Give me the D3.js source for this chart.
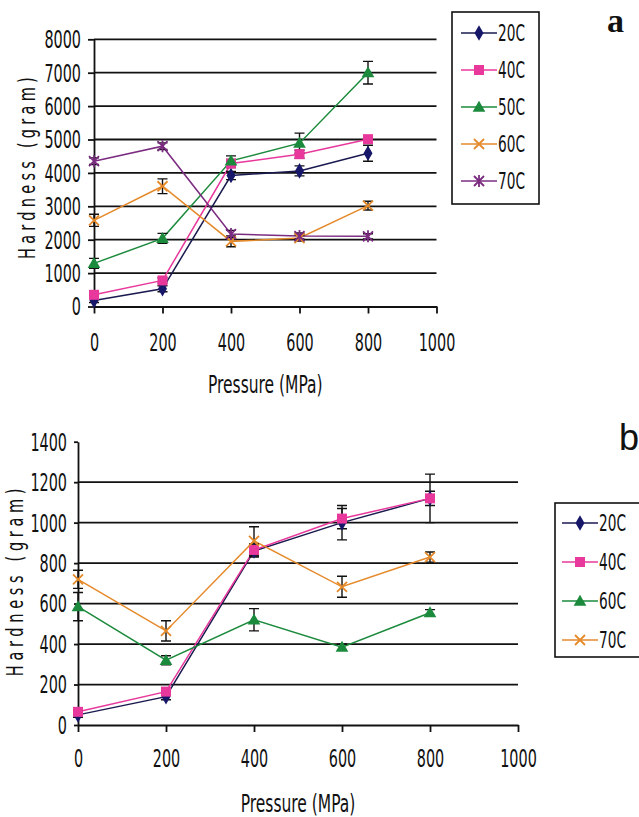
<!DOCTYPE html>
<html>
<head>
<meta charset="utf-8">
<script src="https://cdn.jsdelivr.net/npm/d3@7"></script>
<style>
  body { margin: 0; background: #fff; }
  svg text {
    font-family: "Liberation Sans Narrow", "DejaVu Sans Condensed", "Liberation Sans", sans-serif;
    font-stretch: condensed;
    fill: #111;
  }
</style>
</head>
<body>
<svg id="chart" width="639" height="817"></svg>
<script>
  // shared x values (pressure, MPa)
  var pressure = [0, 200, 400, 600, 800];
  var xTicks = [0, 200, 400, 600, 800, 1000];

  // panel a
  var seriesA = ['20C', '40C', '50C', '60C', '70C'];
  var a20 = [180, 530, 3920, 4060, 4590];
  var a40 = [350, 780, 4280, 4560, 5010];
  var a50 = [1290, 2040, 4360, 4890, 7000];
  var a60 = [2580, 3600, 1950, 2050, 3020];
  var a70 = [4350, 4800, 2170, 2110, 2100];
  var errA20 = [60, 90, 120, 150, 240];
  var errA40 = [60, 80, 120, 120, 90];
  var errA50 = [150, 150, 150, 300, 340];
  var errA60 = [180, 220, 160, 90, 130];
  var errA70 = [100, 100, 110, 90, 80];
  var yTicksA = [0, 1000, 2000, 3000, 4000, 5000, 6000, 7000, 8000];

  // panel b
  var seriesB = ['20C', '40C', '60C', '70C'];
  var b20 = [50, 140, 860, 1000, 1120];
  var b40 = [65, 165, 865, 1020, 1120];
  var b60 = [585, 320, 520, 385, 555];
  var b70 = [720, 465, 910, 683, 830];
  var errB20 = [12, 15, 30, 85, 120];
  var errB40 = [12, 15, 30, 50, 35];
  var errB60 = [70, 22, 55, 15, 15];
  var errB70 = [45, 50, 70, 52, 25];
  var yTicksB = [0, 200, 400, 600, 800, 1000, 1200, 1400];

  var styles = {
    diamond: {color: '#17176a', line: '#1a1a50'},
    square: {color: '#e8389c', line: '#e8389c'},
    triangle: {color: '#1b8a3c', line: '#1b8a3c'},
    cross: {color: '#e58a2a', line: '#e58a2a'},
    star: {color: '#7b2c80', line: '#7b2c80'}
  };

  var svg = d3.select('#chart');

  function drawMarker(g, shape, cx, cy) {
    var c = styles[shape].color;
    if (shape == 'diamond') {
      g.append('path').attr('d', d3.symbol(d3.symbolDiamond, 70)())
        .attr('transform', 'translate(' + cx + ',' + cy + ')').attr('fill', c);
    }
    else if (shape == 'square') {
      g.append('rect').attr('x', cx - 5).attr('y', cy - 5).attr('width', 10).attr('height', 10).attr('fill', c);
    }
    else if (shape == 'triangle') {
      g.append('path').attr('d', d3.symbol(d3.symbolTriangle, 70)())
        .attr('transform', 'translate(' + cx + ',' + (cy + 1) + ')').attr('fill', c);
    }
    else {
      var s = 5;
      var d = 'M' + (cx - s) + ',' + (cy - s) + 'L' + (cx + s) + ',' + (cy + s) +
        'M' + (cx - s) + ',' + (cy + s) + 'L' + (cx + s) + ',' + (cy - s);
      if (shape == 'star')
        d += 'M' + cx + ',' + (cy - s - 1) + 'L' + cx + ',' + (cy + s + 1);
      g.append('path').attr('d', d).attr('stroke', c).attr('stroke-width', 1.8).attr('fill', 'none');
    }
  }

  // tall condensed lettering of the original
  function narrowText(sel, tx, ty) {
    sel.attr('x', 0).attr('y', 0).attr('dy', '0.35em')
      .attr('transform', 'translate(' + tx + ',' + ty + ') scale(0.8,1.2)');
  }

  function drawPanel(cfg) {
    var x = d3.scaleLinear().domain([0, 1000]).range([cfg.left, cfg.right]);
    var y = d3.scaleLinear().domain([0, cfg.ymax]).range([cfg.bottom, cfg.top]);
    var g = svg.append('g');

    // gridlines
    g.append('g').selectAll('line')
      .data(cfg.grid)
      .join('line')
      .attr('x1', x(0)).attr('x2', x(1000))
      .attr('y1', function(d) { return y(d); })
      .attr('y2', function(d) { return y(d); })
      .attr('stroke', '#111').attr('stroke-width', 1.8);

    // axes
    var xa = g.append('g')
      .attr('transform', 'translate(0,' + cfg.bottom + ')')
      .call(d3.axisBottom(x).tickValues(xTicks).tickFormat(d3.format('d')).tickSize(7).tickSizeOuter(0));
    xa.selectAll('text').style('font-size', '20px').call(narrowText, 0, cfg.xLabelGap);
    var ya = g.append('g')
      .attr('transform', 'translate(' + cfg.left + ',0)')
      .call(d3.axisLeft(y).tickValues(cfg.yTicks).tickFormat(d3.format('d')).tickSize(cfg.yTick).tickSizeOuter(0));
    ya.selectAll('text').style('font-size', '20px').call(narrowText, -cfg.yPad, 0);
    g.selectAll('.domain, .tick line').attr('stroke', '#111').attr('stroke-width', 1.8);

    // axis titles
    g.append('text')
      .attr('text-anchor', 'middle')
      .attr('transform', 'translate(' + ((cfg.left + cfg.right) / 2) + ',' + cfg.xTitleY + ') scale(0.82,1.2)')
      .attr('dy', '0.35em')
      .style('font-size', '21px')
      .text('Pressure (MPa)');
    g.append('text')
      .attr('text-anchor', 'middle')
      .attr('transform', 'translate(' + cfg.yTitleX + ',' + cfg.yTitleY + ') rotate(-90) scale(0.85,1.2)')
      .attr('dy', '0.35em')
      .style('font-size', '19px')
      .style('letter-spacing', cfg.yTitleSpacing + 'px')
      .text('Hardness (gram)');

    var line = d3.line()
      .x(function(d) { return x(d[0]); })
      .y(function(d) { return y(d[1]); });

    // lines
    cfg.series.forEach(function(s) {
      g.append('path')
        .datum(d3.zip(pressure, s.values))
        .attr('d', line)
        .attr('fill', 'none')
        .attr('stroke', styles[s.shape].line)
        .attr('stroke-width', 1.5);
    });

    // error bars
    cfg.series.forEach(function(s) {
      s.values.forEach(function(v, i) {
        var px = x(pressure[i]);
        var lo = y(v - s.err[i]), hi = y(v + s.err[i]);
        var p = 'M' + px + ',' + lo + 'L' + px + ',' + hi +
          'M' + (px - 5) + ',' + lo + 'L' + (px + 5) + ',' + lo +
          'M' + (px - 5) + ',' + hi + 'L' + (px + 5) + ',' + hi;
        g.append('path').attr('d', p).attr('stroke', '#111').attr('stroke-width', 1.4).attr('fill', 'none');
      });
    });

    // markers
    cfg.series.forEach(function(s) {
      s.values.forEach(function(v, i) {
        drawMarker(g, s.shape, x(pressure[i]), y(v));
      });
    });

    // legend
    var lg = svg.append('g');
    lg.append('rect')
      .attr('x', cfg.legend.x).attr('y', cfg.legend.y)
      .attr('width', cfg.legend.w).attr('height', cfg.legend.h)
      .attr('fill', '#fff').attr('stroke', '#111').attr('stroke-width', 1.6);
    cfg.series.forEach(function(s, i) {
      var ly = cfg.legend.firstY + i * cfg.legend.step;
      var lx = cfg.legend.x + cfg.legend.lineX;
      lg.append('line')
        .attr('x1', lx).attr('x2', lx + 36).attr('y1', ly).attr('y2', ly)
        .attr('stroke', styles[s.shape].line).attr('stroke-width', 1.6);
      drawMarker(lg, s.shape, lx + 18, ly);
      lg.append('text')
        .style('font-size', '19px')
        .call(narrowText, lx + 37, ly)
        .text(s.name);
    });
  }

  drawPanel({
    left: 94, right: 436.5, top: 39.3, bottom: 306.5, ymax: 8000,
    grid: yTicksA.slice(1), yTicks: yTicksA, yTick: 6, yPad: 13,
    xLabelGap: 36, xTitleY: 384,
    yTitleX: 27, yTitleY: 166, yTitleSpacing: 5,
    series: [
      {name: seriesA[0], values: a20, err: errA20, shape: 'diamond'},
      {name: seriesA[1], values: a40, err: errA40, shape: 'square'},
      {name: seriesA[2], values: a50, err: errA50, shape: 'triangle'},
      {name: seriesA[3], values: a60, err: errA60, shape: 'cross'},
      {name: seriesA[4], values: a70, err: errA70, shape: 'star'}
    ],
    legend: {x: 452, y: 12, w: 87, h: 192, lineX: 9, firstY: 33, step: 37}
  });

  drawPanel({
    left: 78, right: 518, top: 441.7, bottom: 725, ymax: 1400,
    grid: [200, 400, 600, 800, 1000, 1200], yTicks: yTicksB, yTick: 4, yPad: 11,
    xLabelGap: 34, xTitleY: 803,
    yTitleX: 15, yTitleY: 580, yTitleSpacing: 5.5,
    series: [
      {name: seriesB[0], values: b20, err: errB20, shape: 'diamond'},
      {name: seriesB[1], values: b40, err: errB40, shape: 'square'},
      {name: seriesB[2], values: b60, err: errB60, shape: 'triangle'},
      {name: seriesB[3], values: b70, err: errB70, shape: 'cross'}
    ],
    legend: {x: 555, y: 503, w: 90, h: 154, lineX: 7, firstY: 523, step: 39}
  });

  // panel letters
  svg.append('text')
    .attr('x', 607).attr('y', 32)
    .style('font-family', '"Liberation Serif", "DejaVu Serif", serif')
    .style('font-weight', 'bold')
    .style('font-size', '34px')
    .text('a');
  svg.append('text')
    .attr('x', 619).attr('y', 450)
    .style('font-family', '"Liberation Sans", "DejaVu Sans", sans-serif')
    .style('font-size', '36px')
    .text('b');
</script>
</body>
</html>
